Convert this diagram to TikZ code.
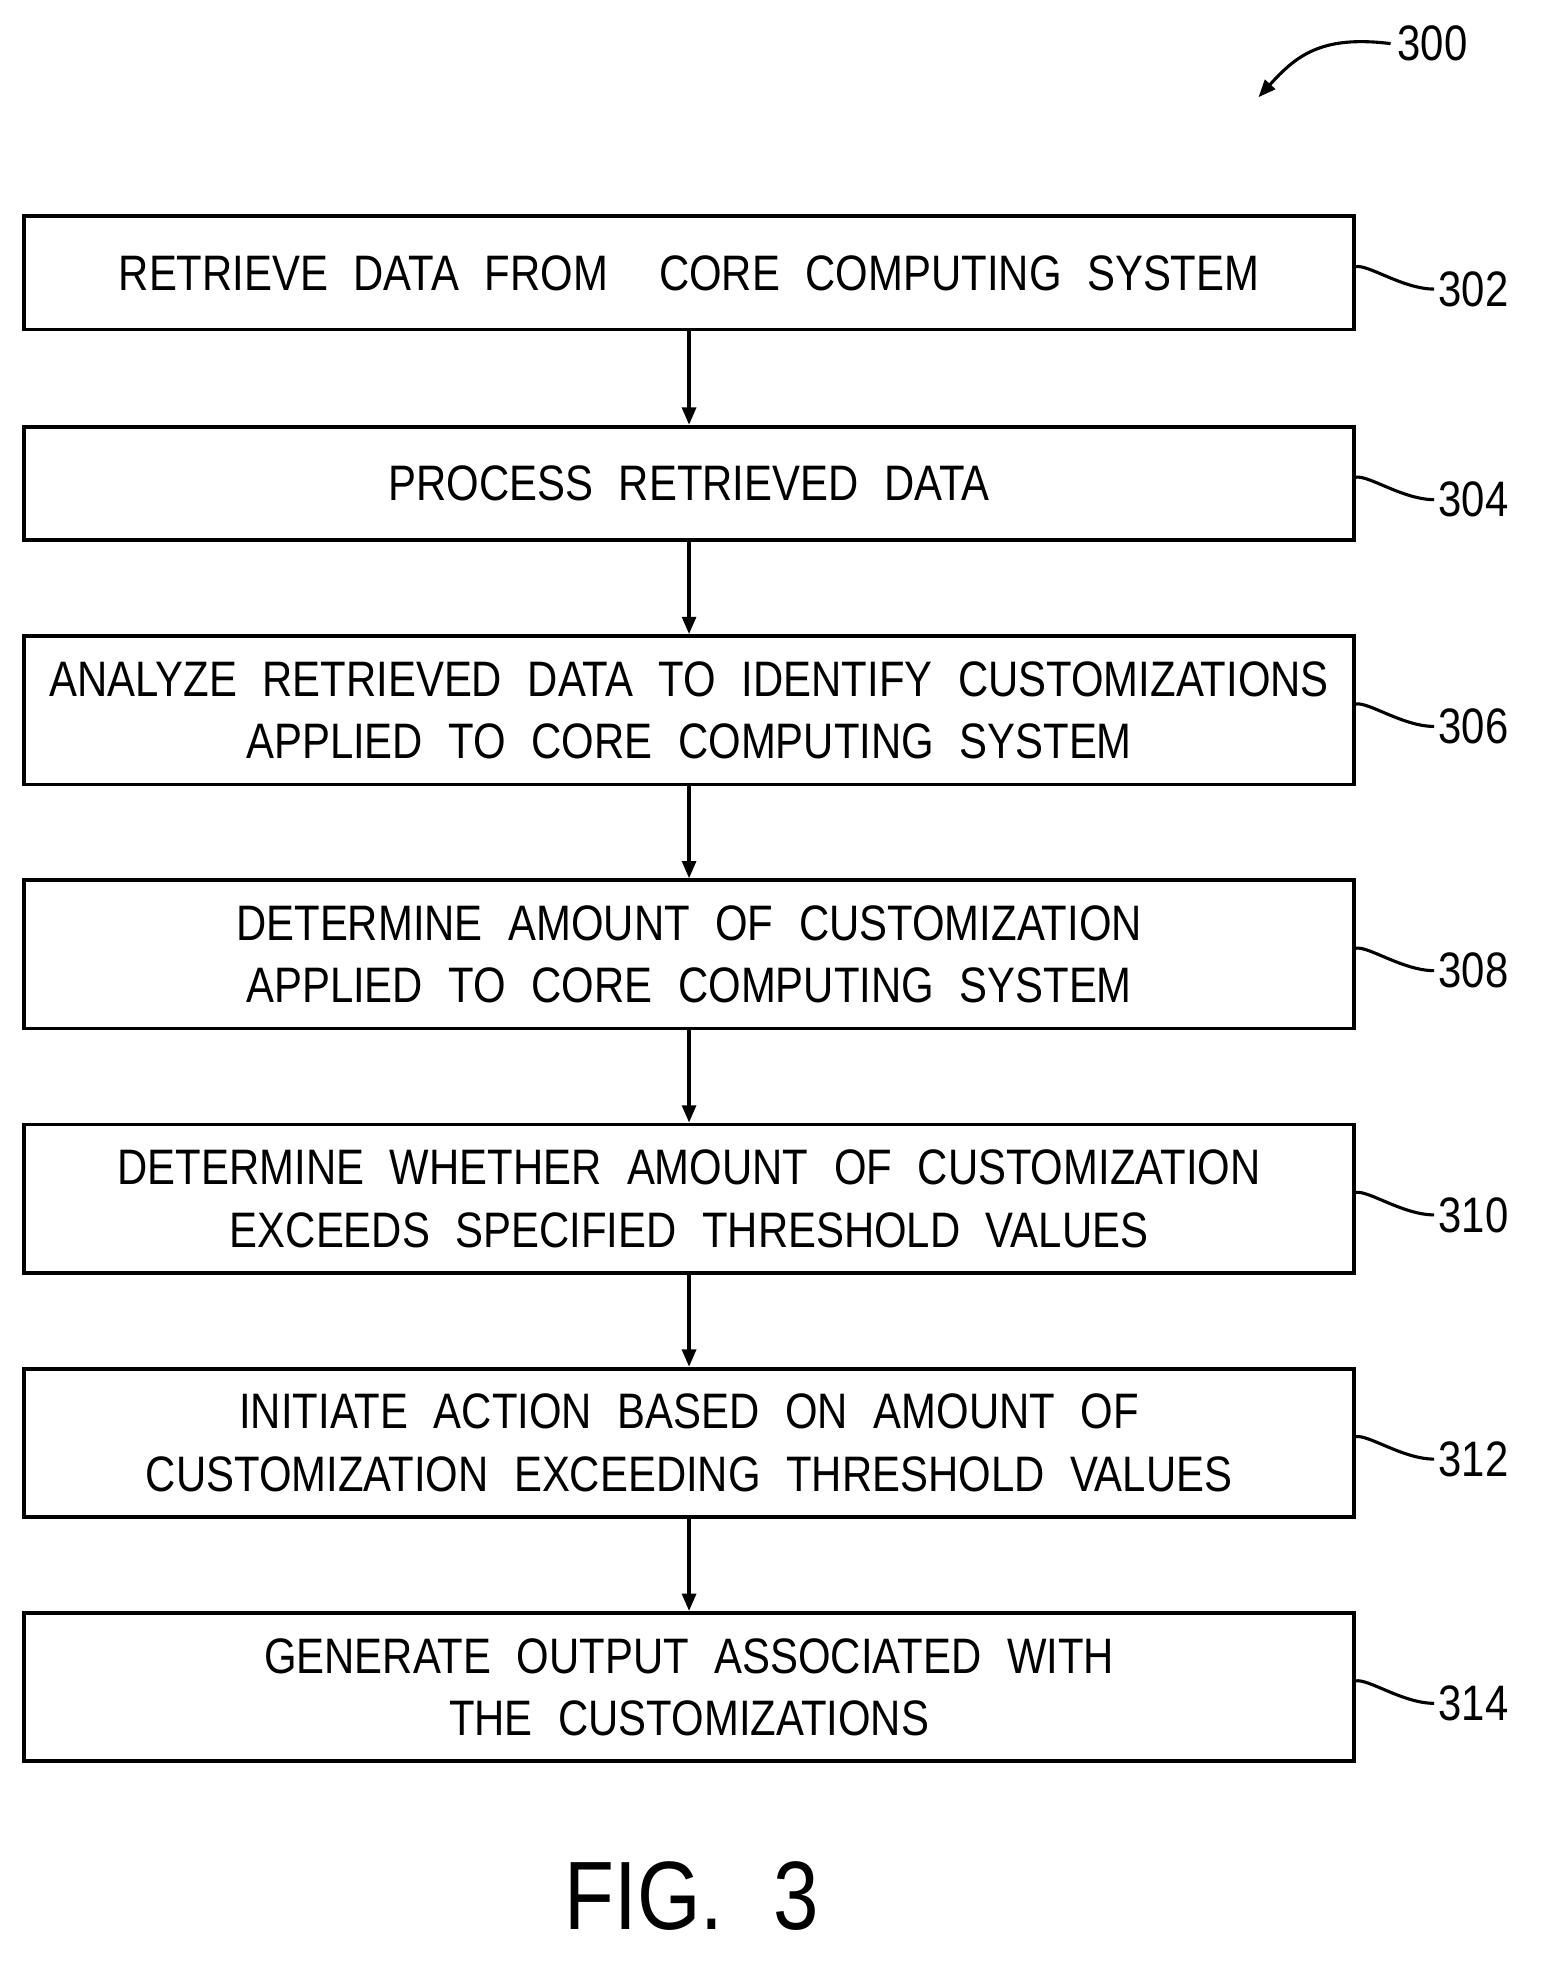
\documentclass[tikz,border=0pt]{standalone}
\usepackage{fontspec}
\setmainfont{Liberation Sans}[FakeStretch=0.84,WordSpace=2.2]
\usetikzlibrary{arrows.meta}
\begin{document}
\begin{tikzpicture}[x=1pt,y=-1pt,line width=3pt,
  box/.style={draw,minimum width=1067pt,anchor=north west,align=center,inner sep=0pt,font=\fontsize{40}{50}\selectfont},
  arr/.style={-{Triangle[length=14pt,width=11pt]}},
  lbl/.style={font=\fontsize{40}{40}\selectfont,anchor=west,inner sep=0pt}]
\useasboundingbox (0,0) rectangle (1240,1577);
\node[box,minimum height=91pt] (b1) at (18,172) {RETRIEVE DATA FROM \ CORE COMPUTING SYSTEM};
\node[box,minimum height=91pt] (b2) at (18,341) {PROCESS RETRIEVED DATA};
\node[box,minimum height=119pt] (b3) at (18,509) {ANALYZE RETRIEVED DATA TO IDENTIFY CUSTOMIZATIONS\\APPLIED TO CORE COMPUTING SYSTEM};
\node[box,minimum height=119pt] (b4) at (18,705) {DETERMINE AMOUNT OF CUSTOMIZATION\\APPLIED TO CORE COMPUTING SYSTEM};
\node[box,minimum height=119pt] (b5) at (18,901) {DETERMINE WHETHER AMOUNT OF CUSTOMIZATION\\EXCEEDS SPECIFIED THRESHOLD VALUES};
\node[box,minimum height=119pt] (b6) at (18,1097) {INITIATE ACTION BASED ON AMOUNT OF\\CUSTOMIZATION EXCEEDING THRESHOLD VALUES};
\node[box,minimum height=119pt] (b7) at (18,1293) {GENERATE OUTPUT ASSOCIATED WITH\\THE CUSTOMIZATIONS};
\foreach \a/\b in {b1/b2,b2/b3,b3/b4,b4/b5,b5/b6,b6/b7}
  \draw[arr] (\a.south) -- (\b.north);
\foreach \b/\n in {b1/302,b2/304,b3/306,b4/308,b5/310,b6/312,b7/314}{
  \node[lbl] (l\n) at ([xshift=65pt,yshift=-13pt]\b.east) {\n};
  \draw[line width=2.5pt] ([yshift=5pt]\b.east) .. controls ++(10,-2) and ++(-25,0) .. ([xshift=-2pt]l\n.west);
}
\node[lbl] (l300) at (1120,35) {300};
\coordinate (t300) at (1010,78);
\draw[line width=2.5pt,-{Triangle[length=14pt,width=11pt]}] ([xshift=-4pt]l300.west) .. controls (1060,28) and (1040,45) .. (t300);
\node[font=\fontsize{78}{78}\selectfont,inner sep=0pt] (fig) at (555,1522) {FIG. 3};
\end{tikzpicture}
\end{document}
